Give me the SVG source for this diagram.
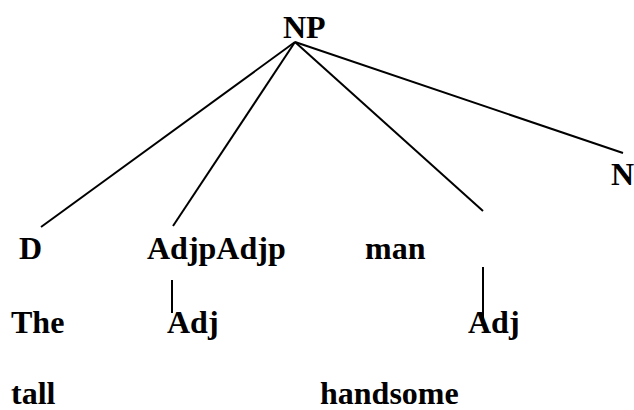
<svg xmlns="http://www.w3.org/2000/svg" width="634" height="410" viewBox="0 0 634 410">
<style>
text{font-family:"Liberation Serif","Times New Roman",serif;font-weight:bold;font-size:32px;fill:#000}
.e{stroke:#000;stroke-width:2;fill:none}
</style>
<rect width="634" height="410" fill="#fff"/>
<g id="connectors">
<line class="e" x1="295" y1="42" x2="41" y2="227"/>
<line class="e" x1="295" y1="42" x2="173" y2="226"/>
<line class="e" x1="295" y1="42" x2="483" y2="211"/>
<line class="e" x1="295" y1="42" x2="623" y2="153"/>
<line class="e" x1="172" y1="280" x2="172" y2="313"/>
<line class="e" x1="483" y1="267" x2="483" y2="323"/>
</g>
<g id="NP"><text x="283" y="38">NP</text></g>
<g id="N"><text x="611" y="185">N</text></g>
<g id="D"><text x="19" y="259">D</text></g>
<g id="AdjpAdjp"><text x="147" y="259">AdjpAdjp</text></g>
<g id="man"><text x="365" y="259">man</text></g>
<g id="The"><text x="11" y="333">The</text></g>
<g id="Adj1"><text x="167" y="333">Adj</text></g>
<g id="Adj2"><text x="468" y="333">Adj</text></g>
<g id="tall"><text x="11" y="404">tall</text></g>
<g id="handsome"><text x="320" y="404">handsome</text></g>
</svg>
